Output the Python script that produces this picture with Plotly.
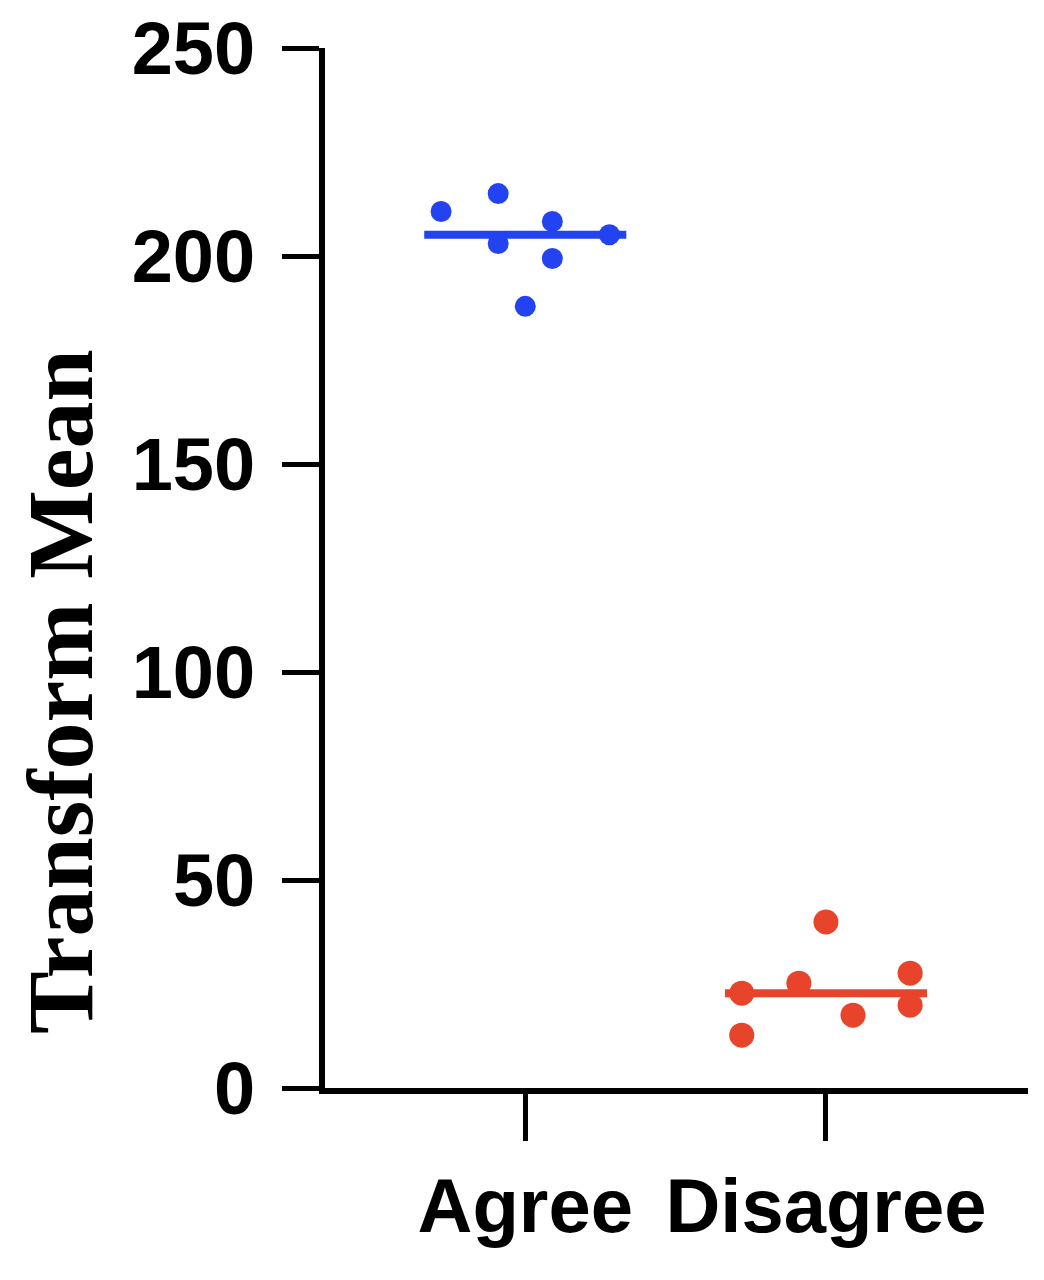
import numpy as np
import plotly.graph_objects as go

categories = ["Agree", "Disagree"]
agree_values = [210.7, 215.0, 203.0, 187.9, 208.3, 199.4, 205.1]
agree_spread = [-0.28, -0.09, -0.09, 0.0, 0.09, 0.09, 0.28]
disagree_values = [22.8, 12.7, 25.2, 39.9, 17.5, 27.6, 19.9]
disagree_spread = [-0.28, -0.28, -0.09, 0.0, 0.09, 0.28, 0.28]
y_ticks = [0, 50, 100, 150, 200, 250]
y_title = "Transform Mean"

BLUE = "#2343F2"
RED = "#E8432B"

fig = go.Figure()

groups = [
    (0, agree_values, agree_spread, BLUE, 21),
    (1, disagree_values, disagree_spread, RED, 25),
]
for pos, vals, spread, col, msize in groups:
    med = float(np.median(vals))
    fig.add_trace(go.Scatter(
        x=[pos - 0.336, pos + 0.336], y=[med, med], mode="lines",
        line=dict(color=col, width=8), showlegend=False, hoverinfo="skip"))
    fig.add_trace(go.Scatter(
        x=[pos + s for s in spread], y=vals, mode="markers",
        marker=dict(color=col, size=msize, line=dict(width=0)),
        showlegend=False))

fig.update_layout(
    width=1036, height=1272,
    margin=dict(l=317, r=16, t=40, b=192, autoexpand=False),
    plot_bgcolor="white", paper_bgcolor="white",
    font=dict(family="Liberation Sans", color="black"),
)
fig.update_xaxes(
    range=[-0.666, 1.672], tickvals=[0, 1], ticktext=categories,
    showline=True, linecolor="black", linewidth=6,
    ticks="outside", ticklen=47, tickwidth=5, tickcolor="black",
    showgrid=False, zeroline=False, automargin=False,
    tickfont=dict(family="Liberation Sans", size=76, color="black", weight="bold"),
    ticklabelstandoff=0, ticklabeloverflow="allow",
)
fig.update_yaxes(
    range=[0, 250], tickvals=y_ticks,
    showline=True, linecolor="black", linewidth=6,
    ticks="outside", ticklen=37, tickwidth=5, tickcolor="black",
    showgrid=False, zeroline=False, automargin=False,
    tickfont=dict(family="Liberation Sans", size=74, color="black", weight="bold"),
    ticklabelstandoff=12, ticklabeloverflow="allow",
)
fig.add_annotation(
    text=y_title, textangle=-90, xref="paper", yref="paper",
    x=(60 - 325) / 703, y=(1088 - 692) / 1040, xanchor="center", yanchor="middle",
    height=96, valign="middle",
    showarrow=False,
    font=dict(family="Liberation Serif", size=94, color="black", weight="bold"),
)

fig.write_html("out.html")
